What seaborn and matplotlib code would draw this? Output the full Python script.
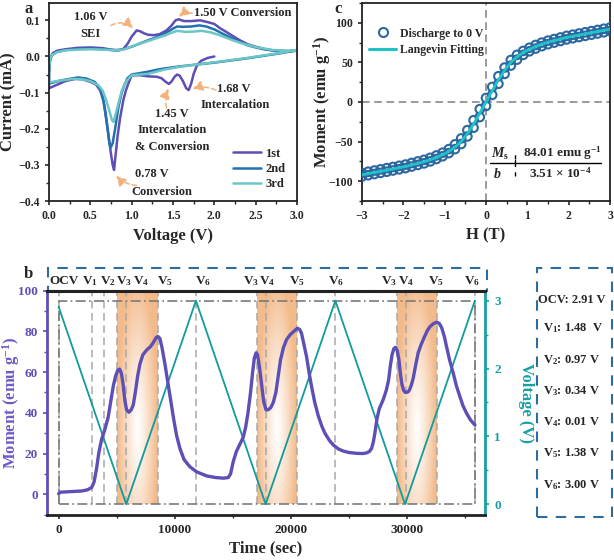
import numpy as np
import pandas as pd
import matplotlib
matplotlib.use("Agg")
import matplotlib.pyplot as plt
import seaborn as sns
from matplotlib.patches import Rectangle
from matplotlib.lines import Line2D
from matplotlib.ticker import MultipleLocator
import matplotlib.transforms as mtransforms

# ---------------- data: panel a (CV curves) ----------------
cv1_v = [2.0, 1.92, 1.84, 1.79, 1.75, 1.72, 1.69, 1.66, 1.62, 1.58, 1.55, 1.52, 1.48, 1.45, 1.41, 1.36, 1.3, 1.2, 1.1,
         1.0, 0.96, 0.93, 0.9, 0.86, 0.83, 0.80, 0.787, 0.77, 0.75, 0.72, 0.69, 0.66, 0.62, 0.57, 0.5, 0.4, 0.32, 0.2, 0.1, 0.0,
         0.0, 0.01, 0.03, 0.05, 0.1, 0.2, 0.35, 0.5, 0.65, 0.75, 0.85, 0.9, 0.95, 1.0, 1.06, 1.1, 1.15, 1.2, 1.27, 1.34,
         1.42, 1.48, 1.53, 1.57, 1.63, 1.72, 1.83, 1.92, 2.0, 2.07, 2.13, 2.2, 2.3, 2.4, 2.5, 2.6, 2.7, 2.8, 2.9, 3.0]
cv1_i = [0.0, -0.004, -0.012, -0.025, -0.048, -0.075, -0.093, -0.088, -0.068, -0.053, -0.05, -0.056, -0.07, -0.076, -0.07,
         -0.06, -0.056, -0.055, -0.052,
         -0.052, -0.075, -0.094, -0.12, -0.17, -0.22, -0.285, -0.314, -0.30, -0.27, -0.22, -0.17, -0.125, -0.094, -0.078,
         -0.07, -0.063, -0.062, -0.068, -0.078, -0.088,
         -0.05, -0.015, 0.002, 0.01, 0.016, 0.02, 0.024, 0.025, 0.023, 0.019, 0.017, 0.021, 0.035, 0.055, 0.072, 0.07,
         0.064, 0.06, 0.059, 0.062, 0.072, 0.085, 0.1, 0.103, 0.098, 0.098, 0.1, 0.095, 0.09, 0.078, 0.07, 0.06, 0.046,
         0.034, 0.027, 0.021, 0.017, 0.015, 0.014, 0.016]

cv2_v = [3.0, 2.8, 2.6, 2.4, 2.2, 2.0, 1.8, 1.6, 1.4, 1.3, 1.2, 1.1, 1.0, 0.95, 0.91, 0.88, 0.84, 0.8, 0.77, 0.747,
         0.73, 0.71, 0.68, 0.65, 0.61, 0.55, 0.45, 0.35, 0.25, 0.15, 0.05, 0.0,
         0.0, 0.01, 0.03, 0.05, 0.1, 0.2, 0.35, 0.5, 0.65, 0.8, 0.9, 1.0, 1.1, 1.2, 1.3, 1.4, 1.5, 1.55, 1.62, 1.72,
         1.82, 1.9, 2.0, 2.1, 2.2, 2.3, 2.4, 2.5, 2.6, 2.7, 2.8, 2.9, 3.0]
cv2_i = [0.017, 0.009, 0.002, -0.005, -0.011, -0.017, -0.022, -0.027, -0.033, -0.037, -0.042, -0.046, -0.05, -0.06,
         -0.08, -0.1, -0.14, -0.2, -0.24, -0.252, -0.24, -0.2, -0.15, -0.11, -0.085, -0.07, -0.061, -0.058, -0.062,
         -0.066, -0.072, -0.075,
         -0.04, -0.01, 0.002, 0.006, 0.013, 0.018, 0.021, 0.022, 0.02, 0.017, 0.02, 0.027, 0.036, 0.045, 0.053, 0.063,
         0.077, 0.083, 0.082, 0.083, 0.086, 0.083, 0.075, 0.063, 0.052, 0.041, 0.031, 0.025, 0.02, 0.017, 0.015, 0.015,
         0.017]

cv3_v = [3.0, 2.8, 2.6, 2.4, 2.2, 2.0, 1.8, 1.6, 1.4, 1.3, 1.2, 1.1, 1.0, 0.93, 0.88, 0.84, 0.8, 0.78, 0.76, 0.73,
         0.69, 0.65, 0.6, 0.5, 0.4, 0.3, 0.2, 0.1, 0.0,
         0.0, 0.01, 0.03, 0.05, 0.1, 0.2, 0.35, 0.5, 0.65, 0.8, 0.9, 1.0, 1.2, 1.4, 1.5, 1.55, 1.65, 1.75, 1.85, 1.95,
         2.05, 2.2, 2.35, 2.5, 2.7, 2.9, 3.0]
cv3_i = [0.018, 0.01, 0.003, -0.004, -0.01, -0.016, -0.022, -0.028, -0.036, -0.042, -0.048, -0.05, -0.052, -0.07,
         -0.095, -0.13, -0.165, -0.181, -0.175, -0.15, -0.12, -0.095, -0.08, -0.068, -0.063, -0.062, -0.065, -0.068,
         -0.072,
         -0.04, -0.01, 0.002, 0.006, 0.012, 0.017, 0.019, 0.02, 0.019, 0.017, 0.019, 0.028, 0.043, 0.058, 0.067, 0.071,
         0.068, 0.069, 0.071, 0.067, 0.06, 0.047, 0.035, 0.026, 0.018, 0.016, 0.018]

cycle_names = ["1st", "2nd", "3rd"]

# ---------------- data: panel b (operando moment / voltage) ----------------
t_moment = [0, 150, 1000, 2000, 2500, 2840, 3050, 3250, 3450, 3700, 3990, 4270, 4500, 4700, 4900, 5100, 5250, 5400,
            5550, 5700, 5850, 6050, 6250, 6430, 6600, 6800, 7000, 7250, 7600, 7900, 8150, 8400, 8550, 8720, 8900,
            9150, 9400, 9650, 9900, 10150, 10440, 10800, 11300, 11880, 12740, 13500, 14200, 14600, 14800, 15030,
            15300, 15600, 15890, 16100, 16300, 16520, 16700, 16850, 17000, 17120, 17300, 17470, 17650, 17850, 18040,
            18250, 18470, 18700, 18900, 19100, 19350, 19620, 19950, 20250, 20540, 20750, 20910, 21100, 21340, 21550,
            21770, 22050, 22350, 22650, 22920, 23300, 23640, 24100, 24500, 25000, 25650, 26200, 26500, 26750, 26940,
            27100, 27220, 27400, 27600, 27940, 28200, 28400, 28550, 28700, 28850, 29000, 29150, 29290, 29420, 29550,
            29700, 29850, 30050, 30180, 30350, 30520, 30750, 30950, 31200, 31500, 31750, 31960, 32250, 32530, 32750,
            32960, 33200, 33390, 33650, 33970, 34250, 34540, 34800, 35110, 35450, 35830]
moment = [0.3, 1.0, 1.3, 1.6, 2.2, 3.3, 6, 12, 20, 27, 32, 38, 46, 53, 58, 61, 61.5, 59.5,
          54, 46, 41.5, 40.3, 41.5, 44, 50, 58, 64, 68.5, 71, 72.5, 74.5, 77, 77.5, 76.5, 72,
          64, 55, 46, 37, 29, 22.5, 17, 13.5, 11, 9, 8.2, 7.9, 8.2, 10, 16,
          21, 24.5, 28, 33, 40, 50, 60, 67, 69.5, 68.5, 62, 54, 45.5, 41.5, 41.5,
          42.5, 45, 50, 58, 66, 72, 76, 78.5, 80, 81.5, 81, 79, 74, 67.6, 60,
          53, 45, 38.5, 33.5, 30, 26.5, 24.2, 22.2, 21.2, 20.5, 20.1, 20.0, 20.3, 21, 22.5,
          26, 30, 37, 42, 46.5, 51, 56, 63, 68.5, 71.5, 72.2, 70.5, 66, 59, 54,
          51, 50, 50.2, 51, 53.5, 57, 64, 69.5, 73.5, 77.5, 80.5, 82.3, 83.8, 84.5, 84,
          82, 77.5, 72.5, 66, 59.4, 53, 48, 43.5, 39.8, 36.5, 34]
t_voltage = [0, 5820, 11820, 17820, 23820, 29820, 35830]
voltage = [2.91, 0.0, 3.0, 0.0, 3.0, 0.0, 3.0]

stage_names = ["OCV", "V$_1$", "V$_2$", "V$_3$", "V$_4$", "V$_5$", "V$_6$",
               "V$_3$", "V$_4$", "V$_5$", "V$_6$", "V$_3$", "V$_4$", "V$_5$", "V$_6$"]
stage_times = [0, 2840, 3900, 5045, 5790, 8520, 11815, 17040, 17810, 20480, 23780, 29090, 29860, 32530, 35830]
stage_label_x = [500, 2690, 4240, 5620, 7140, 9170, 12440, 16570, 17900, 20480, 23860, 28425, 29950, 32470, 35610]
shade_start = [5045, 17040, 29090]
shade_end = [8520, 20480, 32530]

table_names = ["OCV", "V$_1$", "V$_2$", "V$_3$", "V$_4$", "V$_5$", "V$_6$"]
table_volts = ["2.91", "1.48 ", "0.97", "0.34", "0.01", "1.38", "3.00"]

# ---------------- data: panel c (M-H) ----------------
H = [-3.0, -2.85, -2.7, -2.55, -2.4, -2.25, -2.1, -1.95, -1.8, -1.65, -1.5, -1.35, -1.2, -1.05, -0.9, -0.75, -0.6,
     -0.45, -0.3, -0.15, 0.0, 0.15, 0.3, 0.45, 0.6, 0.75, 0.9, 1.05, 1.2, 1.35, 1.5, 1.65, 1.8, 1.95, 2.1, 2.25, 2.4,
     2.55, 2.7, 2.85, 3.0]
M_fit = [-92, -90.5, -89, -87.5, -86, -84.5, -83, -81.5, -79.5, -77.5, -75.5, -73, -70, -66.5, -62.5, -57, -50, -40,
         -28, -14, 0, 14, 28, 40, 50, 57, 62.5, 66.5, 70, 73, 75.5, 77.5, 79.5, 81.5, 83, 84.5, 86, 87.5, 89, 90.5, 92]
M_up = [-89.5, -88, -86.5, -85, -83.5, -82, -80.5, -79, -77, -75, -73, -70.5, -67.5, -64, -59.5, -53.5, -46, -35.5,
        -23, -9, 5, 19, 32.5, 43.5, 53, 59.5, 64.5, 68.5, 72, 75, 77.5, 79.5, 81.5, 83.5, 85, 86.5, 88, 89.5, 91, 92.5, 94]
M_dn = [-94, -92.5, -91, -89.5, -88, -86.5, -85, -83.5, -81.5, -79.5, -77.5, -75, -72, -68.5, -64.5, -59.5, -53,
        -43.5, -32.5, -19, -5, 9, 23, 35.5, 46, 53.5, 59.5, 64, 67.5, 70.5, 73, 75, 77, 79, 80.5, 82, 83.5, 85, 86.5,
        88, 89.5]

# ---------------- style ----------------
sns.set_theme(style="ticks")
plt.rcParams.update({
    "font.family": ["Liberation Serif", "DejaVu Serif"],
    "font.weight": "bold",
    "axes.labelweight": "bold",
    "mathtext.fontset": "custom",
    "mathtext.rm": "Liberation Serif:bold",
    "mathtext.it": "Liberation Serif:italic:bold",
    "mathtext.bf": "Liberation Serif:bold",
    "mathtext.default": "rm",
    "axes.unicode_minus": True,
    "xtick.direction": "out",
    "ytick.direction": "out",
    "axes.linewidth": 1.3,
    "xtick.major.width": 1.2,
    "ytick.major.width": 1.2,
    "xtick.minor.width": 1.0,
    "ytick.minor.width": 1.0,
    "xtick.major.size": 3,
    "ytick.major.size": 3,
    "xtick.minor.size": 2,
    "ytick.minor.size": 2,
    "xtick.labelsize": 8.5,
    "ytick.labelsize": 8.5,
    "axes.edgecolor": "#222222",
})

PURPLE = "#5c4fb5"
BLUE = "#2272b0"
LTEAL = "#6cc5c6"
TEAL = "#17a0a4"
ORANGE = "#f4b17a"
BOXBLUE = "#2f6c9c"

fig = plt.figure(figsize=(6.14, 5.60), dpi=100)
W, Hh = 614.0, 560.0


def fbox(x0, y0, x1, y1):
    return [x0 / W, 1 - y1 / Hh, (x1 - x0) / W, (y1 - y0) / Hh]


ax_a = fig.add_axes(fbox(49, 3, 297, 201))
ax_c = fig.add_axes(fbox(362, 3, 610, 201))
ax_b = fig.add_axes(fbox(47, 290.7, 485, 515))

# ================= panel a =================
for vv, ii, col, name in zip([cv1_v, cv2_v, cv3_v], [cv1_i, cv2_i, cv3_i], [PURPLE, BLUE, LTEAL], cycle_names):
    sns.lineplot(x=vv, y=ii, ax=ax_a, sort=False, estimator=None, color=col, lw=1.8, label=name)
ax_a.set_xlim(0, 3.0)
ax_a.set_ylim(-0.4, 0.148)
ax_a.xaxis.set_major_locator(MultipleLocator(0.5))
ax_a.xaxis.set_minor_locator(MultipleLocator(0.25))
ax_a.yaxis.set_major_locator(MultipleLocator(0.1))
ax_a.yaxis.set_minor_locator(MultipleLocator(0.05))
ax_a.xaxis.set_major_formatter(matplotlib.ticker.FormatStrFormatter("%.1f"))
ax_a.yaxis.set_major_formatter(matplotlib.ticker.FuncFormatter(lambda v, p: ("%.1f" % v).replace("-", "\u2212")))
ax_a.set_xlabel("Voltage (V)", fontsize=12, labelpad=4)
ax_a.set_ylabel("Current (mA)", fontsize=12)
ax_a.yaxis.set_label_coords(-0.133, 0.5)
ax_a.legend(loc="lower left", bbox_to_anchor=(0.72, 0.03), frameon=False, fontsize=9,
            handlelength=2.3, handletextpad=0.3, labelspacing=0.25, borderaxespad=0)

ann_kw = dict(fontsize=9, fontweight="bold", ha="center", va="center")
ax_a.text(0.5, 0.108, "1.06 V", **ann_kw)
ax_a.text(0.5, 0.061, "SEI", **ann_kw)
ax_a.text(1.75, 0.119, "1.50 V Conversion", fontsize=9, fontweight="bold", ha="left", va="center")
ax_a.text(2.23, -0.09, "1.68 V", **ann_kw)
ax_a.text(2.25, -0.134, "Intercalation", **ann_kw)
ax_a.text(1.49, -0.159, "1.45 V", **ann_kw)
ax_a.text(1.49, -0.203, "Intercalation", **ann_kw)
ax_a.text(1.49, -0.25, "& Conversion", **ann_kw)
ax_a.text(1.24, -0.324, "0.78 V", **ann_kw)
ax_a.text(1.36, -0.374, "Conversion", **ann_kw)


def arrow(ax, xy_from, xy_to, rad):
    ax.annotate("", xy=xy_to, xytext=xy_from,
                arrowprops=dict(arrowstyle="-|>,head_length=0.5,head_width=0.25", color=ORANGE, lw=1.1,
                                linestyle=(0, (3, 2)), connectionstyle="arc3,rad=%s" % rad, shrinkA=0, shrinkB=1))


arrow(ax_a, (0.75, 0.086), (1.03, 0.076), -0.35)
arrow(ax_a, (1.73, 0.12), (1.56, 0.107), 0.25)
arrow(ax_a, (2.02, -0.093), (1.72, -0.091), 0.2)
arrow(ax_a, (1.42, -0.142), (1.45, -0.085), -0.15)
arrow(ax_a, (1.06, -0.357), (0.8, -0.327), -0.2)

# ================= panel c =================
ax_c.axvline(0, color="#808080", ls=(0, (5, 3)), lw=1.1, zorder=1)
ax_c.axhline(0, color="#808080", ls=(0, (5, 3)), lw=1.1, zorder=1)
for mm in (M_up, M_dn):
    sns.scatterplot(x=H, y=mm, ax=ax_c, marker="o", s=38, facecolor="none", edgecolor="#2c67a0",
                    linewidth=1.5, zorder=3)
sns.lineplot(x=H, y=M_fit, ax=ax_c, color="#1fc2c8", lw=2.0, zorder=4)
ax_c.set_xlim(-3, 3)
ax_c.set_ylim(-125, 125)
ax_c.xaxis.set_major_locator(MultipleLocator(1))
ax_c.xaxis.set_minor_locator(MultipleLocator(0.5))
ax_c.yaxis.set_major_locator(MultipleLocator(50))
ax_c.yaxis.set_minor_locator(MultipleLocator(25))
ax_c.set_xlabel("H (T)", fontsize=12, labelpad=4)
ax_c.set_ylabel("Moment (emu g$^{-1}$)", fontsize=12)
ax_c.yaxis.set_label_coords(-0.118, 0.5)
h1 = Line2D([], [], marker="o", ls="none", mfc="none", mec="#2c67a0", mew=1.5, ms=6.5)
h2 = Line2D([], [], color="#1fc2c8", lw=2.2)
ax_c.legend([h1, h2], ["Discharge to 0 V", "Langevin Fitting"], loc="upper left", bbox_to_anchor=(0.01, 0.9),
            frameon=False, fontsize=8.5, handlelength=2.3, handletextpad=0.3, labelspacing=0.35, borderaxespad=0)
tr = ax_c.transAxes
ax_c.plot([0.517, 0.965], [0.192, 0.192], color="black", lw=1.0, transform=tr)
ax_c.plot([0.617, 0.617], [0.178, 0.206], color="black", lw=1.0, transform=tr)
ax_c.plot([0.617, 0.617], [0.212, 0.25], color="black", lw=1.0, ls=(0, (3, 2)), transform=tr)
ax_c.plot([0.617, 0.617], [0.124, 0.158], color="black", lw=1.0, ls=(0, (3, 2)), transform=tr)
ax_c.text(0.557, 0.238, r"$\mathit{M}_{\mathrm{s}}$", transform=tr, fontsize=10, ha="center", va="center")
ax_c.text(0.81, 0.242, "84.01 emu g$^{-1}$", transform=tr, fontsize=9.5, ha="center", va="center")
ax_c.text(0.545, 0.138, r"$\mathit{b}$", transform=tr, fontsize=10, ha="center", va="center")
ax_c.text(0.80, 0.138, "3.51 \u00d7 10$^{-4}$", transform=tr, fontsize=9.5, ha="center", va="center")

# ================= panel b =================
ax_v = ax_b.twinx()
ax_b.set_zorder(ax_v.get_zorder() + 1)
ax_b.patch.set_visible(False)

ax_b.set_xlim(-1000, 36700)
ax_b.set_ylim(-10.2, 100)
ax_v.set_ylim(-0.158, 3.147)

# gradient shading
ny, nx = 120, 60
yy, xx = np.mgrid[0:1:ny * 1j, 0:1:nx * 1j]
u = (xx - 0.5) / 0.5
w = (yy - 0.36) / 0.72
tt = np.clip(np.sqrt(u ** 2 + w ** 2), 0, 1) ** 1.2
orange_rgb = np.array([243, 186, 138]) / 255.0
img = np.ones((ny, nx, 3)) * (1 - tt[..., None]) + orange_rgb * tt[..., None]
for s0, s1 in zip(shade_start, shade_end):
    ax_v.imshow(img, extent=(s0, s1, 0.0, 3.1), origin="lower", aspect="auto", interpolation="bilinear", zorder=0)
ax_v.set_xlim(-1000, 36700)
ax_v.set_ylim(-0.158, 3.147)

ax_v.vlines(stage_times, 0.0, 3.147, colors="#a8a8a8", linestyles=(0, (5, 3)), lw=1.1, zorder=1)
ax_v.add_patch(Rectangle((stage_times[0], 0.0), stage_times[-1] - stage_times[0], 3.0, fill=False,
                         ec="#7a7a7a", lw=1.2, ls=(0, (6, 2, 1, 2)), zorder=1))
sns.lineplot(x=t_voltage, y=voltage, ax=ax_v, color="#129b9b", lw=1.3, zorder=2)
sns.lineplot(x=t_moment, y=moment, ax=ax_b, color=PURPLE, lw=2.4, zorder=3)

ax_b.xaxis.set_major_locator(MultipleLocator(10000))
ax_b.xaxis.set_minor_locator(MultipleLocator(5000))
ax_b.yaxis.set_major_locator(MultipleLocator(20))
ax_b.yaxis.set_minor_locator(MultipleLocator(10))
ax_v.yaxis.set_major_locator(MultipleLocator(1))
ax_v.yaxis.set_minor_locator(MultipleLocator(0.5))

ax_b.spines["right"].set_visible(False)
ax_v.spines["left"].set_visible(False)
ax_b.spines["left"].set_color(PURPLE)
ax_b.spines["left"].set_linewidth(2.0)
ax_v.spines["right"].set_color(TEAL)
ax_v.spines["right"].set_linewidth(2.0)
ax_b.spines["bottom"].set_linewidth(2.0)
ax_b.spines["top"].set_linewidth(2.2)
ax_b.spines["top"].set_color("#222222")
ax_v.spines["top"].set_visible(False)
ax_v.spines["bottom"].set_visible(False)
ax_b.tick_params(axis="y", which="both", colors=PURPLE, labelsize=9.5)
ax_b.tick_params(axis="x", which="both", labelsize=9.5)
ax_v.tick_params(axis="y", which="both", colors=TEAL, labelsize=9.5)
ax_b.set_xlabel("Time (sec)", fontsize=12, labelpad=3)
ax_b.set_ylabel("Moment (emu g$^{-1}$)", fontsize=12, color="#6a5cc8")
ax_b.yaxis.set_label_coords(-0.056, 0.5)
ax_v.set_ylabel("Voltage (V)", fontsize=12, color=TEAL, rotation=270, va="center")
ax_v.yaxis.set_label_coords(1.094, 0.5)

trb = mtransforms.blended_transform_factory(ax_b.transData, ax_b.transAxes)
for name, xl in zip(stage_names, stage_label_x):
    ax_b.text(xl, 1.045, name, transform=trb, fontsize=9.5, ha="center", va="center", clip_on=False)

# dashed boxes
fig.add_artist(Rectangle((48 / W, 1 - 291 / Hh), 439 / W, 23 / Hh, transform=fig.transFigure, fill=False,
                         ec=BOXBLUE, lw=1.5, ls=(0, (5, 4))))
fig.add_artist(Rectangle((537 / W, 1 - 517 / Hh), 75 / W, 249 / Hh, transform=fig.transFigure, fill=False,
                         ec=BOXBLUE, lw=1.5, ls=(0, (5, 4))))
ys = [300, 328, 360, 391, 422, 453, 485]
for k, (nm, vt, yp) in enumerate(zip(table_names, table_volts, ys)):
    xp = 538 if k == 0 else 543
    fig.text(xp / W, 1 - yp / Hh, "%s: %s V" % (nm, vt), fontsize=9, ha="left", va="center")

# panel letters
fig.text(29 / W, 1 - 1 / Hh, "a", fontsize=12, fontweight="bold", ha="center", va="top")
fig.text(338 / W, 1 - 1 / Hh, "c", fontsize=12, fontweight="bold", ha="center", va="top")
fig.text(28 / W, 1 - 266 / Hh, "b", fontsize=12, fontweight="bold", ha="center", va="top")

fig.savefig("out.png", dpi=100)
